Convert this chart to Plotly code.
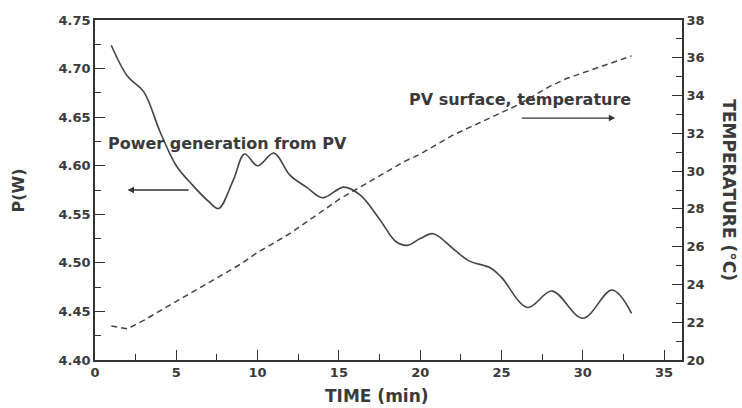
import plotly.graph_objects as go

# PV module output power over time
time_power = [1.0, 2.0, 3.0, 4.0, 5.0, 6.0, 7.0, 7.6, 8.5, 9.2, 10.0, 11.0, 12.0,
              13.0, 14.0, 15.3, 16.3, 17.5, 18.5, 19.2, 20.0, 20.8, 22.0, 23.0,
              24.3, 25.0, 26.6, 28.1, 30.0, 31.8, 33.0]
power_w = [4.724, 4.692, 4.676, 4.635, 4.600, 4.580, 4.563, 4.556, 4.585, 4.612,
           4.600, 4.613, 4.590, 4.578, 4.567, 4.578, 4.570, 4.545, 4.522, 4.518,
           4.525, 4.530, 4.515, 4.502, 4.495, 4.485, 4.454, 4.471, 4.443, 4.472,
           4.448]

# PV surface temperature over time
time_temp = list(range(1, 34))
temp_c = [21.8, 21.65, 22.1, 22.6, 23.1, 23.6, 24.1, 24.6, 25.1, 25.7, 26.2, 26.7,
          27.3, 27.9, 28.5, 29.0, 29.5, 30.0, 30.5, 30.9, 31.4, 31.9, 32.3, 32.7,
          33.1, 33.5, 34.0, 34.5, 34.9, 35.2, 35.5, 35.8, 36.1]

x_ticks = [0, 5, 10, 15, 20, 25, 30, 35]
p_ticks = [4.40, 4.45, 4.50, 4.55, 4.60, 4.65, 4.70, 4.75]
t_ticks = [20, 22, 24, 26, 28, 30, 32, 34, 36, 38]

ink = "#3a3a3a"
tick_font = dict(family="DejaVu Sans", size=13, color=ink, weight="bold")
label_font = dict(family="DejaVu Sans", size=16, color=ink, weight="bold")

fig = go.Figure()
fig.add_trace(go.Scatter(x=time_power, y=power_w, mode="lines",
                         line=dict(color="#444444", width=1.6, shape="spline", smoothing=1.0),
                         showlegend=False))
fig.add_trace(go.Scatter(x=time_temp, y=temp_c, mode="lines", yaxis="y2",
                         line=dict(color="#444444", width=1.5, dash="6px,4px"),
                         showlegend=False))

axis_common = dict(showgrid=False, zeroline=False, showline=True, linecolor="#333333",
                   linewidth=1.6, ticks="inside", tickcolor="#333333", tickwidth=1.4,
                   ticklen=10, tickfont=tick_font)

fig.update_layout(
    width=742, height=408,
    margin=dict(l=95, r=60, t=20, b=48),
    paper_bgcolor="white", plot_bgcolor="white",
    xaxis=dict(range=[0, 36.1], tickvals=x_ticks, mirror=True,
               minor=dict(dtick=2.5, ticks="inside", ticklen=6, tickcolor="#333333", tickwidth=1.2),
               **axis_common),
    yaxis=dict(range=[4.40, 4.75], tickvals=p_ticks, tickformat=".2f",
               minor=dict(dtick=0.025, ticks="inside", ticklen=6, tickcolor="#333333", tickwidth=1.2),
               **axis_common),
    yaxis2=dict(range=[20, 38], tickvals=t_ticks, overlaying="y", side="right",
                minor=dict(dtick=1, ticks="inside", ticklen=6, tickcolor="#333333", tickwidth=1.2),
                **axis_common),
    annotations=[
        dict(text="TIME (min)", xref="paper", yref="paper", x=0.48, y=-0.072,
             yanchor="top", showarrow=False, font=dict(label_font, size=17)),
        dict(text="P(W)", xref="paper", yref="paper", x=-0.15, y=0.5,
             textangle=-90, showarrow=False, font=label_font),
        dict(text="TEMPERATURE (°C)", xref="paper", yref="paper", x=1.1, y=0.5,
             textangle=90, showarrow=False, font=dict(label_font, size=17)),
        dict(text="Power generation from PV", x=0.7, y=4.623, xref="x", yref="y",
             xanchor="left", showarrow=False, font=label_font),
        dict(text="PV surface, temperature", x=19.2, y=4.668, xref="x", yref="y",
             xanchor="left", showarrow=False, font=label_font),
        dict(text="", x=2.0, y=4.575, ax=5.85, ay=4.575, xref="x", yref="y",
             axref="x", ayref="y", showarrow=True, arrowhead=2, arrowsize=1,
             arrowwidth=1.3, arrowcolor="#333333"),
        dict(text="", x=32.0, y=4.649, ax=26.15, ay=4.649, xref="x", yref="y",
             axref="x", ayref="y", showarrow=True, arrowhead=2, arrowsize=1,
             arrowwidth=1.3, arrowcolor="#333333"),
    ],
)

fig.write_html("out.html")
